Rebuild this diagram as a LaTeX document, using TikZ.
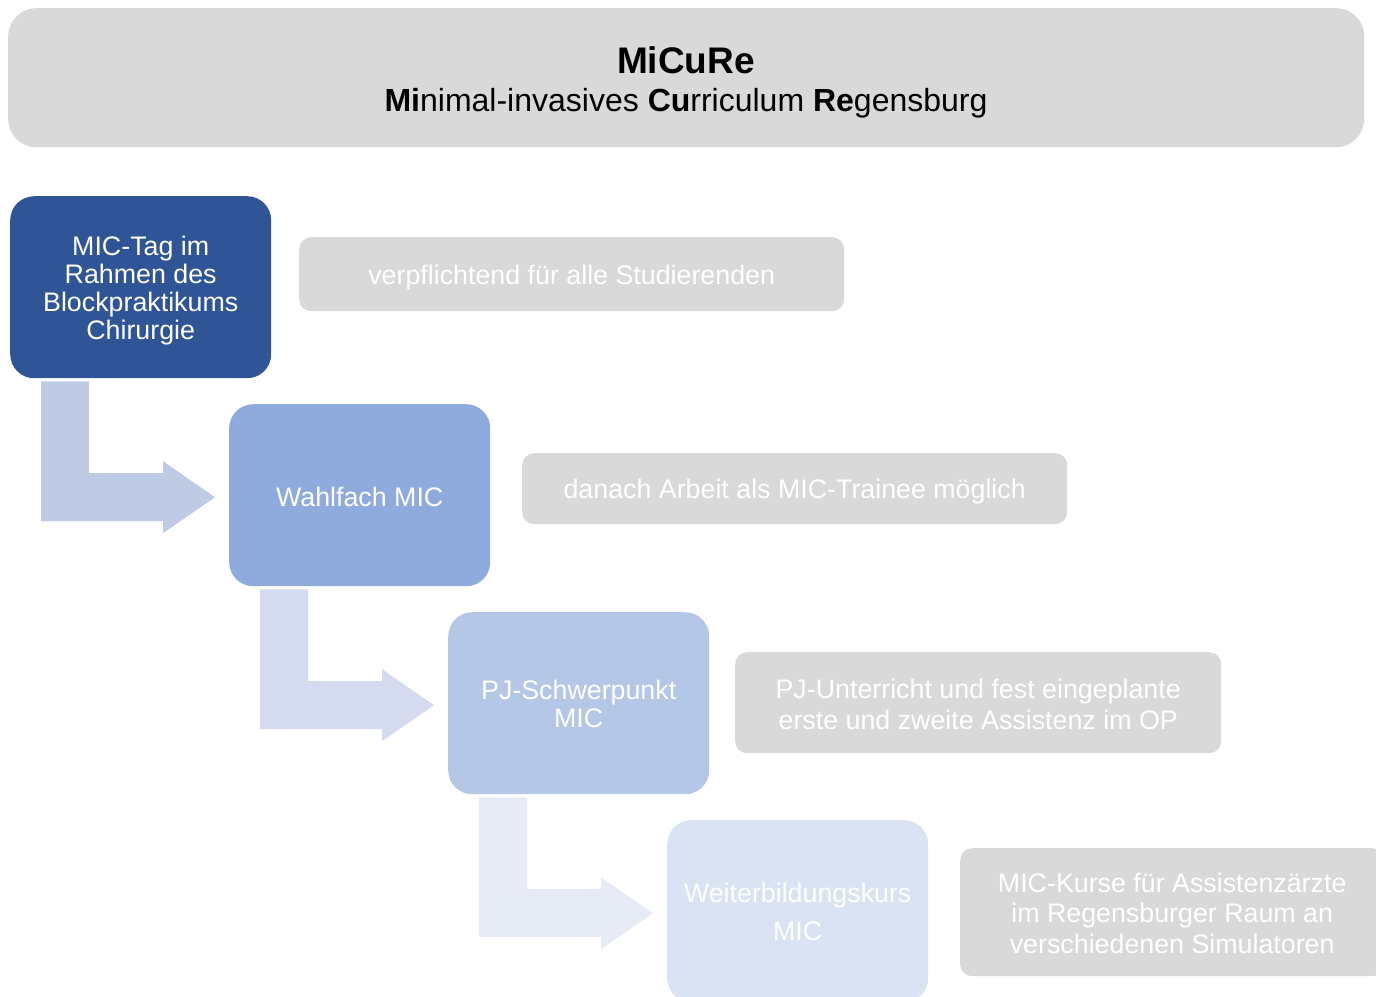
\documentclass[tikz,border=0pt]{standalone}
\usepackage{fontspec}
\setmainfont{Liberation Sans}
\usetikzlibrary{calc}
\definecolor{hdrgray}{HTML}{D9D9D9}
\definecolor{notegray}{HTML}{D9D9D9}
\definecolor{cA}{HTML}{2F5597}
\definecolor{cB}{HTML}{8FAADC}
\definecolor{cC}{HTML}{B4C7E7}
\definecolor{cD}{HTML}{DAE3F3}
\definecolor{arA}{HTML}{BFCAE5}
\definecolor{arB}{HTML}{D5DBEE}
\definecolor{arC}{HTML}{E7EBF5}
\newcommand\bentarrow[3]{%
  \fill[#3] let \p1=($(#1.south west)+(31,3)$), \p2=($(#2.west)+(-14,2)$) in
    (\x1,\y1) -- (\x1+48pt,\y1) -- (\x1+48pt,\y2+24pt) -- (\x2-52pt,\y2+24pt)
    -- (\x2-52pt,\y2+36pt) -- (\x2,\y2) -- (\x2-52pt,\y2-36pt)
    -- (\x2-52pt,\y2-24pt) -- (\x1,\y2-24pt) -- cycle;}
\begin{document}
\begin{tikzpicture}[x=1pt,y=-1pt,
  stepbox/.style={rounded corners=24pt, minimum width=261pt, minimum height=182pt,
    inner sep=0pt, text=white, align=center, anchor=north west,
    font=\fontsize{26.8}{28}\selectfont},
  notebox/.style={fill=notegray, rounded corners=12pt, inner sep=0pt, text=white,
    align=center, anchor=north west, font=\fontsize{26.8}{31}\selectfont},
  txt/.style={text=white, align=center, inner sep=0pt}]
\useasboundingbox (0,0) rectangle (1376,996);
% header
\node[fill=hdrgray, rounded corners=28pt, minimum width=1356pt, minimum height=139pt,
  inner sep=0pt, anchor=north west] (hdr) at (8,8) {};
\node[font=\fontsize{37}{40}\selectfont\bfseries] (title) at (686,60) {MiCuRe};
\node[font=\fontsize{32}{34}\selectfont] (sub) at (686,103)
  {\textbf{Mi}nimal-invasives \textbf{Cu}rriculum \textbf{Re}gensburg};
% steps
\node[stepbox, fill=cA] (s1) at (10,196) {};
\node[txt, font=\fontsize{26.8}{28}\selectfont] (t1) at ($(s1.center)+(0,3)$)
  {MIC-Tag im\\Rahmen des\\Blockpraktikums\\Chirurgie};
\node[stepbox, fill=cB] (s2) at (229,404) {};
\node[txt, font=\fontsize{26.8}{28}\selectfont] (t2) at ($(s2.center)+(0,2)$) {Wahlfach MIC};
\node[stepbox, fill=cC] (s3) at (448,612) {};
\node[txt, font=\fontsize{26.8}{28}\selectfont] (t3) at ($(s3.center)+(0,1)$) {PJ-Schwerpunkt\\MIC};
\node[stepbox, fill=cD] (s4) at (667,820) {};
\node[txt, font=\fontsize{26.8}{38}\selectfont] (t4) at ($(s4.center)+(0,1)$) {Weiterbildungskurs\\MIC};
% notes
\node[notebox, minimum width=545pt, minimum height=74pt] (n1) at (299,237) {};
\node[txt, font=\fontsize{26.8}{31}\selectfont] (m1) at ($(n1.center)+(0,3)$)
  {verpflichtend für alle Studierenden};
\node[notebox, minimum width=545pt, minimum height=71pt] (n2) at (522,453) {};
\node[txt, font=\fontsize{26.8}{31}\selectfont] (m2) at ($(n2.center)+(0,3)$)
  {danach Arbeit als MIC-Trainee möglich};
\node[notebox, minimum width=486pt, minimum height=101pt] (n3) at (735,652) {};
\node[txt, font=\fontsize{26.8}{31}\selectfont] (m3) at ($(n3.center)+(0,2)$)
  {PJ-Unterricht und fest eingeplante\\erste und zweite Assistenz im OP};
\node[notebox, minimum width=424pt, minimum height=128pt] (n4) at (960,848) {};
\node[txt, font=\fontsize{26.8}{30.5}\selectfont] (m4) at ($(n4.center)+(0,1)$)
  {MIC-Kurse für Assistenzärzte\\im Regensburger Raum an\\verschiedenen Simulatoren};
% arrows
\bentarrow{s1}{s2}{arA}
\bentarrow{s2}{s3}{arB}
\bentarrow{s3}{s4}{arC}
\end{tikzpicture}
\end{document}
